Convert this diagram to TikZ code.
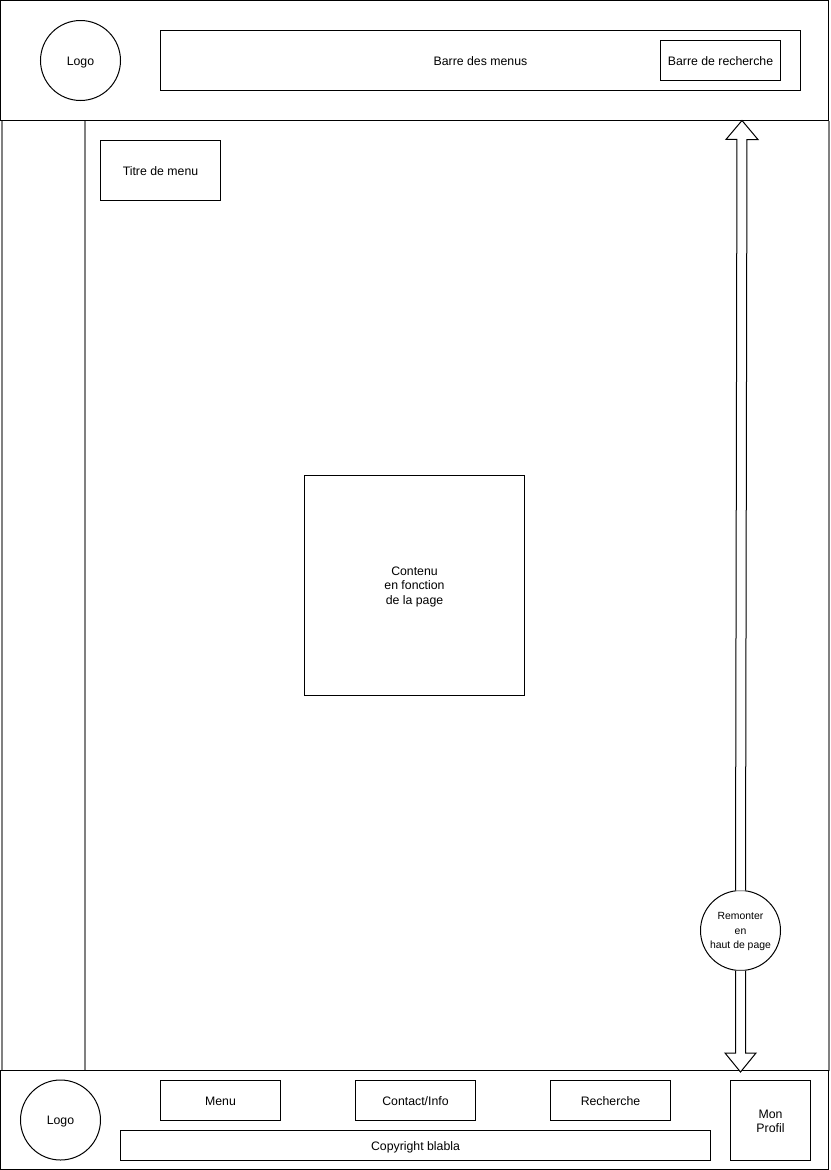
\documentclass[tikz,border=0pt]{standalone}
\usepackage{fontspec}
\setmainfont{Liberation Sans}
\usepackage{xcolor}
\usetikzlibrary{calc}

\tikzset{
    bloc/.style={draw, line width=1pt, inner sep=0pt, outer sep=0pt, align=center,
        execute at begin node={\rule[-2.5pt]{0pt}{14.5pt}},
        font=\fontsize{12.3}{14.5}\selectfont},
    rond/.style={bloc, circle, minimum size=80pt},
    menubox/.style={bloc, minimum width=120pt, minimum height=40pt},
    colonne/.style={draw=black!50, line width=2pt},
    fleche/.style={draw, fill=white, line width=1pt, line join=miter}
}

% top strut for the first line of a text on several lines
\newcommand{\hautligne}[1]{\rule{0pt}{#1}}

% block arrow from a node to a free end, open at its foot
\newcommand{\blocarrow}[3]{
    \coordinate (base) at ($(#2)!19pt!(#1)$);
    \path[fleche] ($(#1)!5pt!-90:(#2)$) -- ($(base)!5pt!-90:(#2)$) -- ($(base)!#3!-90:(#2)$)
        -- (#2) -- ($(base)!#3!90:(#2)$) -- ($(base)!5pt!90:(#2)$) -- ($(#1)!5pt!90:(#2)$);
}

\begin{document}
\begin{tikzpicture}[x=1pt,y=-1pt]
    \useasboundingbox (0,0) rectangle (830,1170);

    % Page body: its two sides and the left column
    \draw[colonne] (2,120.5) -- (2,1070.5);
    \draw[colonne] (85,120.5) -- (85,1070.5);
    \draw[colonne] (829,120.5) -- (829,1070.5);

    % Header
    \node[bloc, minimum width=828pt, minimum height=120pt] (entete) at (414.5,60.5) {};
    \node[rond] (logohaut) at (80.5,60.5) {Logo};
    \node[bloc, minimum width=640pt, minimum height=60pt] (barre) at (480.5,60.5) {Barre des menus};
    \node[menubox] (recherchehaut) at (720.5,60.5) {Barre de recherche};

    % Content
    \node[bloc, minimum width=120pt, minimum height=60pt] (titre) at (160.5,170.5) {Titre de menu};
    \node[bloc, minimum size=220pt] (contenu) at (414.5,585.5) {\hautligne{11pt}Contenu\\en fonction\\de la page};

    % Footer
    \node[bloc, minimum width=828pt, minimum height=99pt] (pied) at (414.5,1120) {};

    % Back to top button and its two arrows
    \node[rond, font=\fontsize{10.4}{14.5}\selectfont] (remonter) at (740.5,930.5) {\hautligne{9.5pt}Remonter\\en\\haut de page};
    \coordinate (pagehaut) at (742,120.5);
    \coordinate (pagebas) at (740.5,1072);
    \blocarrow{remonter.north}{pagehaut}{16pt}
    \blocarrow{remonter.south}{pagebas}{15.5pt}

    % Footer content
    \node[rond] (logobas) at (60.5,1120) {Logo};
    \node[menubox] (menu) at (220.5,1100.5) {Menu};
    \node[menubox] (contact) at (415.5,1100.5) {Contact/Info};
    \node[menubox] (recherche) at (610.5,1100.5) {Recherche};
    \node[bloc, minimum width=80pt, minimum height=80pt] (profil) at (770.5,1120) {\hautligne{13pt}Mon\\Profil};
    \node[bloc, minimum width=590pt, minimum height=30pt] (copyright) at (415.5,1145.5) {Copyright blabla};
\end{tikzpicture}
\end{document}
